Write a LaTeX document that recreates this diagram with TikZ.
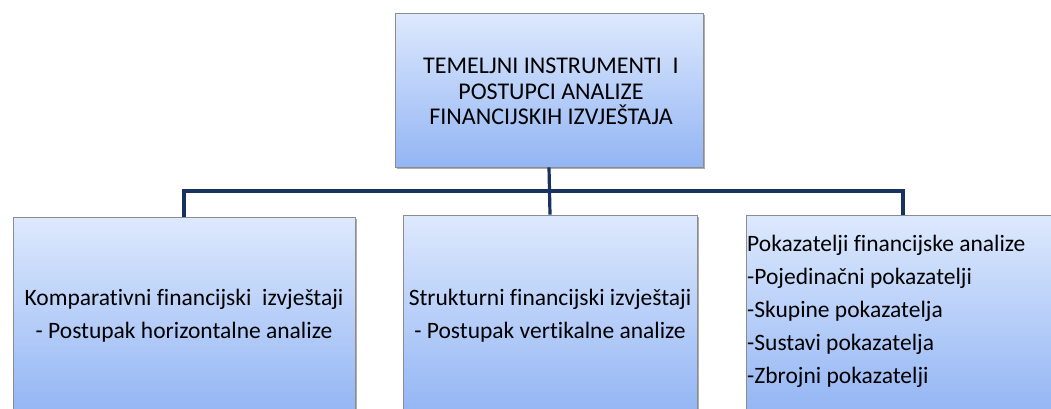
\documentclass[tikz,border=0pt]{standalone}
\usepackage{fontspec}
\setmainfont{Carlito}[RawFeature={-liga}]
\usetikzlibrary{shadows}
\definecolor{boxtop}{HTML}{DDE9FD}
\definecolor{boxbot}{HTML}{93B5F4}
\definecolor{boxline}{HTML}{8C8C8C}
\definecolor{conn}{HTML}{17335E}
\begin{document}
\begin{tikzpicture}[x=1pt,y=-1pt,
  box/.style={draw=boxline, line width=0.8pt, top color=boxtop, bottom color=boxbot,
    inner sep=0pt, drop shadow={shadow xshift=2pt, shadow yshift=-2pt, opacity=0.45, fill=black!70}},
  conn/.style={draw=conn, line width=3.2pt},
  toptext/.style={align=center, font=\fontsize{24}{25.5}\selectfont},
  bottext/.style={align=center, font=\fontsize{23.5}{33}\selectfont},
  listtext/.style={align=left, anchor=west, font=\fontsize{23.5}{33}\selectfont}]
\useasboundingbox (0,0) rectangle (1051,408);
\clip (0,0) rectangle (1051,408);
\fill[white] (0,0) rectangle (1051,408);
% boxes
\node[box, minimum width=308pt, minimum height=154pt] (top) at (549,90) {};
\node[box, minimum width=342pt, minimum height=198pt] (left) at (184,316) {};
\node[box, minimum width=294pt, minimum height=200pt] (mid) at (550,315) {};
\node[box, minimum width=314pt, minimum height=200pt] (right) at (903,315) {};
% texts
\node[toptext] (ttop) at (551,91.5) {TEMELJNI INSTRUMENTI\ \ I\\POSTUPCI ANALIZE\\FINANCIJSKIH IZVJEŠTAJA};
\node[bottext] (tleft) at (184,316) {Komparativni financijski\ \ izvještaji\\- Postupak horizontalne analize};
\node[bottext] (tmid) at (550,316) {Strukturni financijski izvještaji\\- Postupak vertikalne analize};
\node[listtext, inner xsep=1pt] (tright) at (746,311.5) {Pokazatelji financijske analize\\-Pojedinačni pokazatelji\\-Skupine pokazatelja\\-Sustavi pokazatelja\\-Zbrojni pokazatelji};
% connectors
\coordinate (bus) at (550,191);
\coordinate (rtop) at (903,215);
\draw[conn] (top.south) -- (mid.north);
\draw[conn] (left.north) |- (bus) -- (rtop |- bus) -- (rtop);
\end{tikzpicture}
\end{document}
